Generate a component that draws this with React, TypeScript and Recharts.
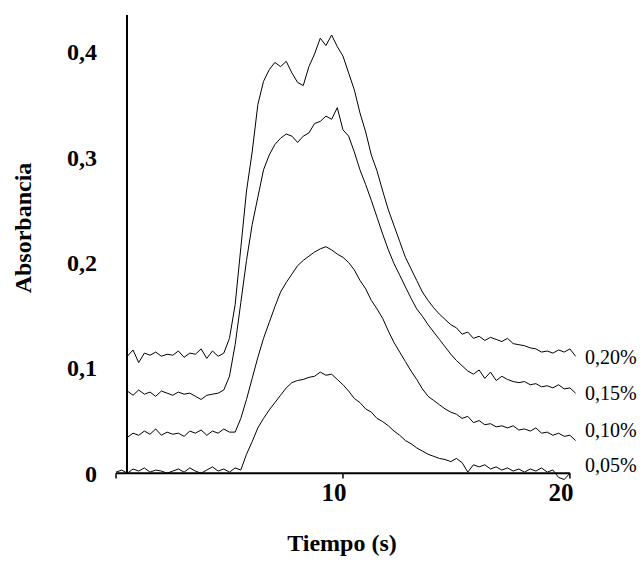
import React from 'react';
import { LineChart, Line, XAxis, YAxis, ReferenceLine } from 'recharts';

// time in seconds (sampled every 0.25 s)
const time = [
  0, 0.25, 0.5, 0.75, 1, 1.25, 1.5, 1.75,
  2, 2.25, 2.5, 2.75, 3, 3.25, 3.5, 3.75,
  4, 4.25, 4.5, 4.75, 5, 5.25, 5.5, 5.75,
  6, 6.25, 6.5, 6.75, 7, 7.25, 7.5, 7.75,
  8, 8.25, 8.5, 8.75, 9, 9.25, 9.5, 9.75,
  10, 10.25, 10.5, 10.75, 11, 11.25, 11.5, 11.75,
  12, 12.25, 12.5, 12.75, 13, 13.25, 13.5, 13.75,
  14, 14.25, 14.5, 14.75, 15, 15.25, 15.5, 15.75,
  16, 16.25, 16.5, 16.75, 17, 17.25, 17.5, 17.75,
  18, 18.25, 18.5, 18.75, 19, 19.25, 19.5, 19.75,
  20, 20.25,
];

const abs020 = [
  null, null, 0.111, 0.117, 0.105, 0.114, 0.112, 0.115,
  0.111, 0.113, 0.112, 0.116, 0.110, 0.114, 0.113, 0.118,
  0.109, 0.116, 0.111, 0.114, 0.128, 0.160, 0.214, 0.268,
  0.305, 0.350, 0.372, 0.383, 0.390, 0.386, 0.391, 0.380,
  0.371, 0.368, 0.386, 0.398, 0.413, 0.406, 0.416, 0.405,
  0.396, 0.380, 0.364, 0.342, 0.324, 0.302, 0.287, 0.268,
  0.250, 0.235, 0.220, 0.205, 0.194, 0.183, 0.172, 0.164,
  0.157, 0.151, 0.146, 0.141, 0.138, 0.132, 0.134, 0.128,
  0.130, 0.126, 0.129, 0.127, 0.125, 0.128, 0.123, 0.122,
  0.121, 0.119, 0.118, 0.115, 0.116, 0.114, 0.117, 0.115,
  0.118, 0.111,
];

const abs015 = [
  null, null, 0.078, 0.074, 0.079, 0.075, 0.077, 0.073,
  0.078, 0.076, 0.074, 0.077, 0.075, 0.076, 0.073, 0.070,
  0.074, 0.075, 0.076, 0.079, 0.092, 0.122, 0.162, 0.202,
  0.236, 0.262, 0.288, 0.302, 0.312, 0.318, 0.322, 0.320,
  0.314, 0.320, 0.323, 0.332, 0.334, 0.339, 0.336, 0.347,
  0.326, 0.320, 0.305, 0.288, 0.274, 0.259, 0.243, 0.227,
  0.212, 0.199, 0.188, 0.177, 0.166, 0.156, 0.149, 0.141,
  0.134, 0.127, 0.120, 0.113, 0.107, 0.102, 0.097, 0.094,
  0.098, 0.090, 0.096, 0.088, 0.092, 0.089, 0.087, 0.086,
  0.087, 0.084, 0.085, 0.082, 0.083, 0.081, 0.084, 0.080,
  0.081, 0.076,
];

const abs010 = [
  null, null, 0.034, 0.038, 0.036, 0.040, 0.037, 0.042,
  0.036, 0.039, 0.037, 0.038, 0.035, 0.040, 0.038, 0.041,
  0.036, 0.040, 0.038, 0.042, 0.039, 0.039, 0.052, 0.070,
  0.090, 0.110, 0.128, 0.143, 0.158, 0.172, 0.181, 0.189,
  0.197, 0.202, 0.206, 0.210, 0.213, 0.215, 0.212, 0.208,
  0.205, 0.200, 0.193, 0.183, 0.175, 0.164, 0.156, 0.147,
  0.135, 0.124, 0.115, 0.106, 0.097, 0.089, 0.080, 0.073,
  0.069, 0.065, 0.061, 0.058, 0.056, 0.052, 0.054, 0.048,
  0.050, 0.046, 0.047, 0.044, 0.045, 0.043, 0.045, 0.041,
  0.042, 0.040, 0.043, 0.038, 0.039, 0.036, 0.038, 0.035,
  0.036, 0.031,
];

const abs005 = [
  0.001, 0.003, 0.000, 0.004, 0.002, 0.005, 0.001, 0.003,
  0.002, 0.000, 0.002, 0.004, 0.001, 0.005, 0.002, 0.000,
  0.003, 0.006, 0.002, 0.004, 0.001, 0.005, 0.003, 0.018,
  0.030, 0.043, 0.052, 0.060, 0.067, 0.074, 0.081, 0.086,
  0.088, 0.089, 0.091, 0.092, 0.096, 0.093, 0.094, 0.089,
  0.084, 0.078, 0.071, 0.067, 0.061, 0.058, 0.052, 0.049,
  0.045, 0.040, 0.036, 0.031, 0.028, 0.024, 0.021, 0.018,
  0.016, 0.014, 0.013, 0.011, 0.014, 0.010, 0.001, 0.008,
  0.006, 0.008, 0.004, 0.006, 0.003, 0.005, 0.002, 0.004,
  0.001, 0.004, 0.002, 0.005, 0.001, 0.003, -0.004, -0.006,
  0.000, null,
];

const seriesLabels = ['0,20%', '0,15%', '0,10%', '0,05%'];
const yTicks = [0, 0.1, 0.2, 0.3, 0.4];
const xTicks = [10, 20];
const axisMarks = [0, 10, 20];

const data = time.map((t, i) => ({
  t,
  a020: abs020[i],
  a015: abs015[i],
  a010: abs010[i],
  a005: abs005[i],
}));

const FONT = '"Liberation Serif", "Times New Roman", serif';

const XTick = (props: any) => {
  const { x, y, payload } = props;
  return (
    <text x={x - 9} y={y + 12} textAnchor="middle" fontSize={25} fontWeight="bold" fontFamily={FONT} fill="#000">
      {payload.value}
    </text>
  );
};

// page-space centre of each series label
const labelCentres = [357, 393, 430, 465];

export default function App() {
  return (
    <div style={{ position: 'relative', width: 640, height: 561, fontFamily: FONT, color: '#000', overflow: 'hidden' }}>
      <style>{'body { margin: 0; }'}</style>
      <div style={{ position: 'absolute', left: 8, top: 8 }}>
        <LineChart width={624} height={545} data={data} margin={{ top: 7, right: 53, bottom: 34, left: 0 }}>
          <XAxis
            dataKey="t"
            type="number"
            domain={[0, 20.4]}
            ticks={xTicks}
            axisLine={false}
            tickLine={false}
            tickSize={0}
            tickMargin={0}
            height={30}
            tick={<XTick />}
            allowDataOverflow
          />
          <YAxis
            type="number"
            domain={[-0.015, 0.435]}
            ticks={yTicks}
            width={108}
            axisLine={false}
            tickLine={false}
            tickSize={0}
            tickMargin={19}
            allowDataOverflow
            tickFormatter={(v: number) => (v === 0 ? '0' : v.toFixed(1).replace('.', ','))}
            tick={{ fontSize: 24, fontWeight: 'bold', fill: '#000', fontFamily: FONT }}
          />
          <ReferenceLine segment={[{ x: 0, y: 0 }, { x: 20, y: 0 }]} stroke="#000" strokeWidth={2} />
          <ReferenceLine segment={[{ x: 0.485, y: 0 }, { x: 0.485, y: 0.435 }]} stroke="#000" strokeWidth={2} />
          {axisMarks.map((m) => (
            <ReferenceLine key={m} segment={[{ x: m, y: 0 }, { x: m, y: -0.005 }]} stroke="#000" strokeWidth={1.5} />
          ))}
          <Line type="linear" dataKey="a020" stroke="#000" strokeWidth={1} dot={false} isAnimationActive={false} />
          <Line type="linear" dataKey="a015" stroke="#000" strokeWidth={1} dot={false} isAnimationActive={false} />
          <Line type="linear" dataKey="a010" stroke="#000" strokeWidth={1} dot={false} isAnimationActive={false} />
          <Line type="linear" dataKey="a005" stroke="#000" strokeWidth={1} dot={false} isAnimationActive={false} />
        </LineChart>
      </div>

      <div
        style={{
          position: 'absolute', left: 23, top: 228, transform: 'translate(-50%, -50%) rotate(-90deg)',
          fontSize: 24, fontWeight: 'bold', whiteSpace: 'nowrap', lineHeight: 1,
        }}
      >
        Absorbancia
      </div>
      <div
        style={{
          position: 'absolute', left: 342, top: 543, transform: 'translate(-50%, -50%)',
          fontSize: 24, fontWeight: 'bold', whiteSpace: 'nowrap', lineHeight: 1,
        }}
      >
        Tiempo (s)
      </div>
      {seriesLabels.map((s, i) => (
        <div
          key={s}
          style={{
            position: 'absolute', left: 585, top: labelCentres[i], transform: 'translateY(-50%)',
            fontSize: 20, whiteSpace: 'nowrap', lineHeight: 1,
          }}
        >
          {s}
        </div>
      ))}
    </div>
  );
}
